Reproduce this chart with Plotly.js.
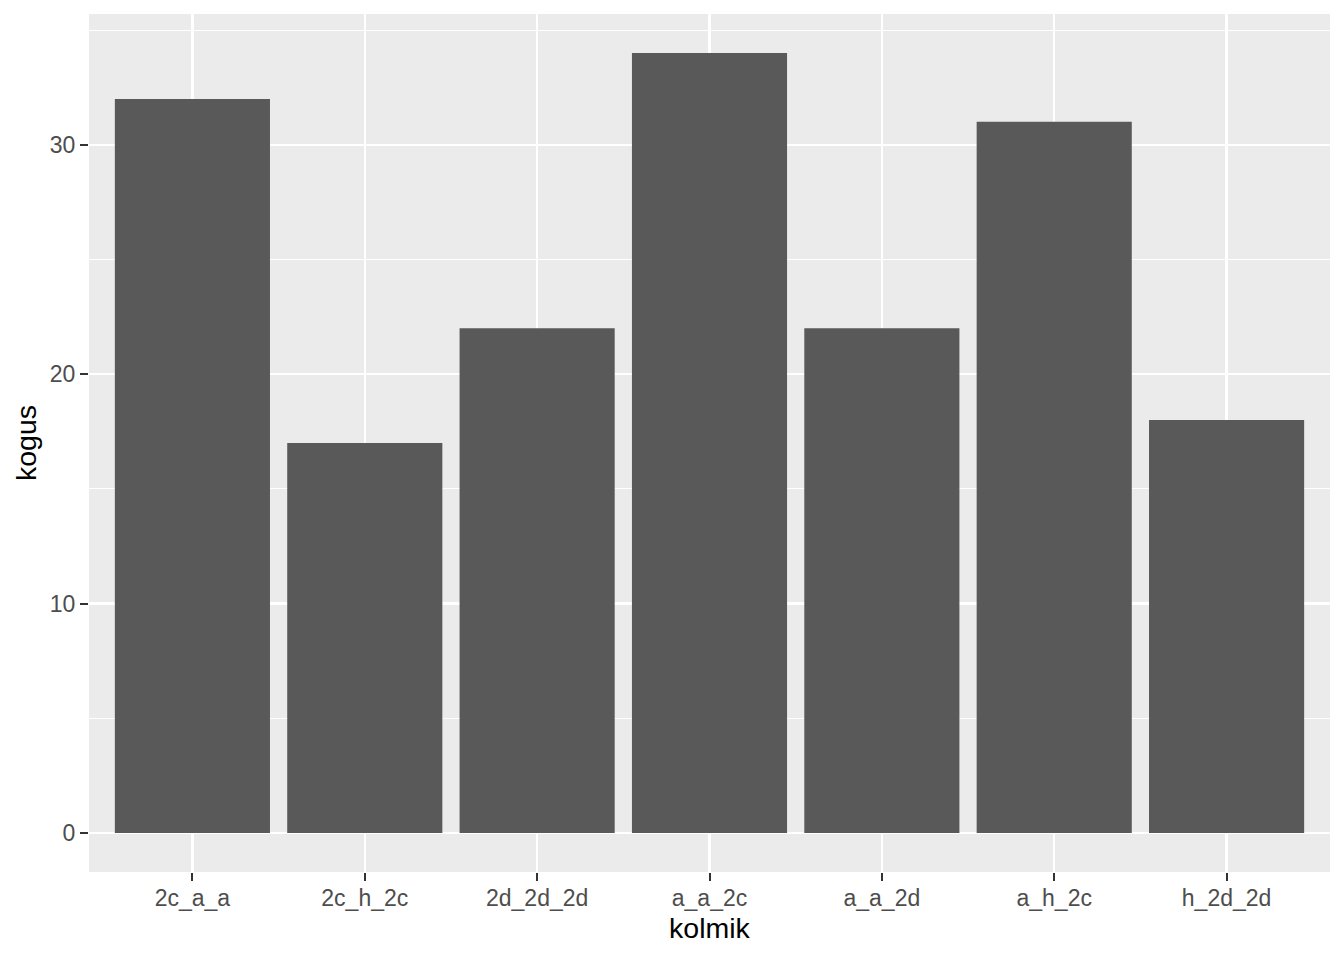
<!DOCTYPE html>
<html>
<head>
<meta charset="utf-8">
<script src="https://cdn.plot.ly/plotly-3.0.1.min.js"></script>
<style>html,body{margin:0;padding:0;background:#fff;}#chart{width:1344px;height:960px;}</style>
</head>
<body>
<div id="chart"></div>
<script>
const categories = ["2c_a_a", "2c_h_2c", "2d_2d_2d", "a_a_2c", "a_a_2d", "a_h_2c", "h_2d_2d"];
const values = [32, 17, 22, 34, 22, 31, 18];
const yTickVals = [0, 10, 20, 30];
const yTickText = ["0", "10", "20", "30"];

const trace = {
  type: "bar",
  x: categories,
  y: values,
  width: 0.9,
  marker: {color: "#595959", line: {width: 0}},
  hoverinfo: "x+y"
};

const layout = {
  width: 1344,
  height: 960,
  margin: {l: 89, r: 14, t: 14, b: 88},
  paper_bgcolor: "#ffffff",
  plot_bgcolor: "#ebebeb",
  font: {family: "Liberation Sans, Arial, sans-serif", color: "#4d4d4d", size: 23},
  showlegend: false,
  bargap: 0.1,
  xaxis: {
    type: "category",
    range: [-0.6, 6.6],
    showgrid: true,
    gridcolor: "#ffffff",
    gridwidth: 2.2,
    zeroline: false,
    showline: false,
    ticks: "outside",
    ticklen: 8,
    tickwidth: 2,
    tickcolor: "#333333",
    ticklabelstandoff: -3,
    tickfont: {size: 23, color: "#4d4d4d"},
    title: {text: "kolmik", font: {size: 28.5, color: "#000000"}, standoff: 8},
    fixedrange: true
  },
  yaxis: {
    range: [-1.7, 35.7],
    tickvals: yTickVals,
    ticktext: yTickText,
    showgrid: true,
    gridcolor: "#ffffff",
    gridwidth: 2.2,
    zeroline: false,
    showline: false,
    ticks: "outside",
    ticklen: 8,
    tickwidth: 2,
    tickcolor: "#333333",
    tickfont: {size: 23, color: "#4d4d4d"},
    minor: {dtick: 5, tick0: 0, showgrid: true, gridcolor: "#ffffff", gridwidth: 1.1, ticks: ""},
    title: {text: "kogus", font: {size: 28.5, color: "#000000"}, standoff: 4},
    fixedrange: true
  }
};

Plotly.newPlot("chart", [trace], layout, {displayModeBar: false, staticPlot: true});
</script>
</body>
</html>
